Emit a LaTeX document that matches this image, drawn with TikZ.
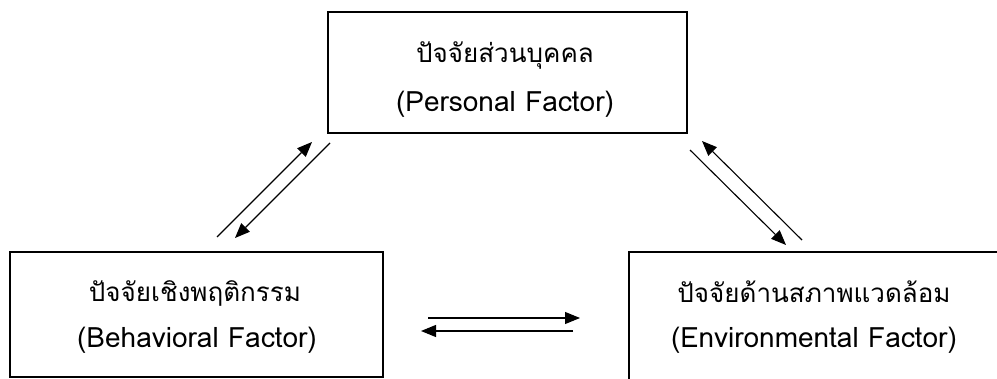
\documentclass[tikz,border=0pt]{standalone}
\usepackage{fontspec}
\newfontfamily\thaifont[Script=Thai]{Loma}
\usetikzlibrary{arrows.meta}
\begin{document}
\begin{tikzpicture}[x=1pt,y=-1pt,
  box/.style={draw, line width=1.8pt, rectangle, inner sep=0pt},
  lbl/.style={anchor=base, inner sep=0pt, font=\thaifont\fontsize{26pt}{30pt}\selectfont},
  elbl/.style={anchor=base, inner sep=0pt, font=\thaifont\fontsize{28pt}{32pt}\selectfont},
  arr/.style={line width=1.1pt, -{Triangle[length=15pt,width=12pt]}}]
\useasboundingbox (0,0) rectangle (997,379);
\clip (0,0) rectangle (997,379);
% boxes
\node[box, minimum width=359pt, minimum height=121pt] (P) at (507.5,72.5) {};
\node[box, minimum width=373pt, minimum height=125pt] (B) at (196.5,314.5) {};
\node[box, minimum width=370pt, minimum height=138pt] (E) at (814,321) {};
% labels
\node[lbl] (P1) at (505,63) {ปัจจัยส่วนบุคคล};
\node[elbl] (P2) at (505,112) {(Personal Factor)};
\node[lbl] (B1) at (195,302) {ปัจจัยเชิงพฤติกรรม};
\node[elbl] (B2) at (197,348) {(Behavioral Factor)};
\node[lbl] (E1) at (814,303) {ปัจจัยด้านสภาพแวดล้อม};
\node[elbl] (E2) at (814,348) {(Environmental Factor)};
% arrow end coordinates
\coordinate (l1s) at (217,237); \coordinate (l1e) at (312,142);
\coordinate (l2s) at (330,143); \coordinate (l2e) at (235,238);
\coordinate (r1s) at (690,150); \coordinate (r1e) at (786,245);
\coordinate (r2s) at (802,240); \coordinate (r2e) at (702,141);
\coordinate (h1s) at (428,318); \coordinate (h1e) at (580,318);
\coordinate (h2s) at (573,331); \coordinate (h2e) at (421,331);
\draw[arr] (l1s) -- (l1e);
\draw[arr] (l2s) -- (l2e);
\draw[arr] (r1s) -- (r1e);
\draw[arr] (r2s) -- (r2e);
\draw[arr] (h1s) -- (h1e);
\draw[arr] (h2s) -- (h2e);
\end{tikzpicture}
\end{document}
